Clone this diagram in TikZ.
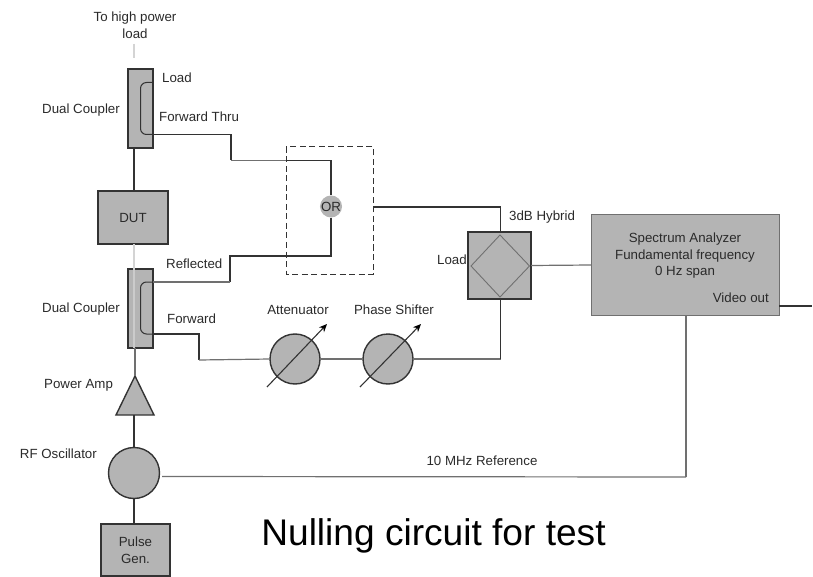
\documentclass[tikz,border=0pt]{standalone}
\usepackage{fontspec}
\setmainfont{Liberation Sans}
\usetikzlibrary{shapes.geometric,arrows.meta}
\definecolor{fillg}{HTML}{B4B4B4}
\definecolor{dk}{HTML}{333333}
\definecolor{md}{HTML}{707070}
\definecolor{lt}{HTML}{D4D4D4}
\definecolor{txt}{HTML}{2A2A2A}
\tikzset{
  box/.style={draw=dk,fill=fillg,line width=1.5pt,inner sep=0pt,outer sep=0pt,rectangle,font=\fontsize{13.3}{16}\selectfont,text=txt,align=center},
  disc/.style={draw=dk,fill=fillg,line width=1.4pt,inner sep=0pt,outer sep=0pt,circle,minimum size=50pt},
  lbl/.style={font=\fontsize{13.3}{16.5}\selectfont,text=txt,inner sep=0pt,align=center,yshift=-1pt},
  wire/.style={draw=dk,line width=1.2pt},
  wirem/.style={draw=md,line width=1.2pt},
  wirel/.style={draw=lt,line width=1.2pt},
  couple/.style={draw=dk,line width=1pt,rounded corners=6pt},
  dial/.style={draw=dk,line width=1.1pt,-{Stealth[length=8pt,width=7pt,color=black]}}
}
\begin{document}
\begin{tikzpicture}[x=1pt,y=-1pt]
\useasboundingbox (0,0) rectangle (813,577);
% main boxes
\node[box,minimum width=25pt,minimum height=79pt] (ct) at (140.5,108.5) {};
\node[box,minimum width=25pt,minimum height=79pt] (cb) at (140.5,308.5) {};
\node[box,minimum width=70pt,minimum height=53pt] (dut) at (133,217.5) {DUT};
\node[box,minimum width=69pt,minimum height=52pt] (pg) at (135.5,550) {Pulse\\[1pt]Gen.};
\node[box,draw=md,line width=1pt,minimum width=188pt,minimum height=100pt] (sa) at (685,265) {};
\node[box,line width=1.7pt,minimum width=63pt,minimum height=67pt] (hy) at (499.5,265.5) {};
\node[disc] (att) at (295,359) {};
\node[disc] (ps) at (388,359) {};
\node[disc,minimum size=51pt] (osc) at (134,473) {};
\node[draw=none,fill=fillg,circle,minimum size=22pt,inner sep=0pt,outer sep=0pt,font=\fontsize{13.3}{16}\selectfont,text=txt] (or) at (331,206.5) {OR};
\node[draw=dk,fill=fillg,line width=1.4pt,isosceles triangle,isosceles triangle stretches,shape border rotate=90,minimum width=38pt,minimum height=39pt,inner sep=0pt,outer sep=0pt,anchor=apex] (amp) at (135,376) {};
% free coordinates
\coordinate (top) at (134,44);
\coordinate (ctA) at (153,82.5);
\coordinate (ctB) at (153,134.5);
\coordinate (cbA) at (153,282);
\coordinate (cbB) at (153,334);
\coordinate (vid) at (812,306);
\coordinate (refc) at (686,477);
\coordinate (oscr) at (162,476.5);
\coordinate (dr) at (373,207);
\coordinate (du) at (500.5,207);
\coordinate (hyT) at (500.5,232);
\coordinate (hyB) at (500.5,299);
% dashed box
\draw[dk,line width=1pt,dash pattern=on 6pt off 3.5pt] (286,147) rectangle (373,274);
% wires
\draw[wirel] (top) -- (134,58);
\draw[wire] (ct.south -| 134,0) -- (134,191);
\draw[wirel] (134,244) -- (134,269);
\draw[wirel,draw=fillg!70!white] (134,269) -- (134,348);
\draw[wirem] (cb.south -| 135,0) -- (amp.apex);
\draw[wire] (134,415) -- (osc.north);
\draw[wire] (osc.south) -- (134,524);
\draw[wire] (ctB) -- (231,134.5) -- (231,160.5);
\draw[wirem] (231,160.5) -- (286,160.5);
\draw[wire] (286,160.5) -- (331,160.5) -- (or.north);
\draw[wire] (or.south) -- (331,256) -- (230,256) -- (230,282);
\draw[wirem] (230,282) -- (cbA);
\draw[wire] (cbB) -- (199,334) -- (199,360);
\draw[wirem] (199,360) -- (att.west);
\draw[wirem] (att.east) -- (ps.west);
\draw[wirem] (ps.east) -- (500.5,359);
\draw[wire] (500.5,359) -- (hyB);
\draw[wire] (dr) -- (du) -- (hyT);
\draw[wirem] (hy.east) -- (sa.west);
\draw[wire] (sa.east |- vid) -- (vid);
\draw[wirem] (sa.south -| refc) -- (refc);
\draw[wirem] (oscr) -- (refc);
% coupler inner arcs
\draw[couple] (ctA) -- (140.5,82.5) -- (140.5,134.5) -- (ctB);
\draw[couple] (cbA) -- (140.5,282) -- (140.5,334) -- (cbB);
% hybrid diamond
\draw[md,line width=.9pt] (500,235) -- (529.5,266) -- (500,297) -- (471,266) -- cycle;
% dial arrows
\draw[dial] (267,387) -- (327,324);
\draw[dial] (360,387) -- (421,324);
% labels
\node[lbl] (l1) at (135,24) {To high power\\load};
\node[lbl,anchor=west] (l2) at (162,77) {Load};
\node[lbl,anchor=west] (l3) at (42,109) {Dual Coupler};
\node[lbl,anchor=west] (l4) at (159,116) {Forward Thru};
\node[lbl,anchor=west] (l5) at (166,263) {Reflected};
\node[lbl,anchor=west] (l6) at (42,308) {Dual Coupler};
\node[lbl,anchor=west] (l7) at (167,318) {Forward};
\node[lbl,anchor=west] (l8) at (44,384) {Power Amp};
\node[lbl,anchor=east] (l9) at (97,453) {RF Oscillator};
\node[lbl] (l10) at (298,309) {Attenuator};
\node[lbl] (l11) at (394,309) {Phase Shifter};
\node[lbl,anchor=west] (l12) at (437,259) {Load};
\node[lbl,anchor=west] (l13) at (509,216) {3dB Hybrid};
\node[lbl] (l14) at (685,255) {Spectrum Analyzer\\Fundamental frequency\\0 Hz span};
\node[lbl,anchor=east] (l15) at (769,297) {Video out};
\node[lbl] (l16) at (482,460) {10 MHz Reference};
\node[inner sep=0pt,font=\fontsize{37.1}{40}\selectfont,text=black] (l17) at (433.5,536) {Nulling circuit for test};
\end{tikzpicture}
\end{document}
